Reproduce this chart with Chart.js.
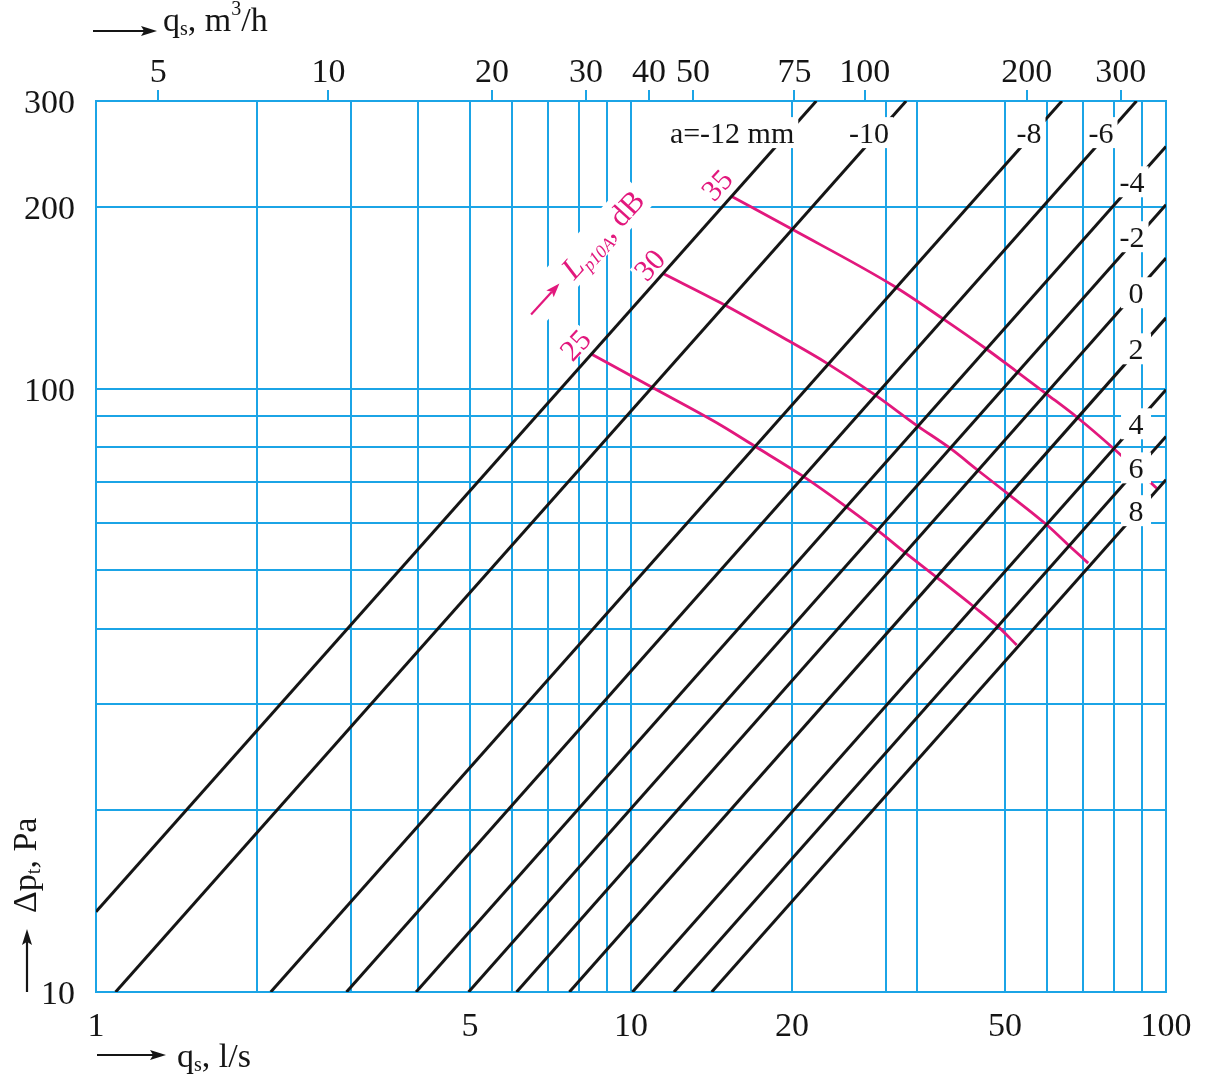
<!DOCTYPE html>
<html>
<head>
<meta charset="utf-8">
<script src="https://cdn.jsdelivr.net/npm/chart.js@4/dist/chart.umd.min.js"></script>
<style>
html,body{margin:0;padding:0;background:#fff;}
canvas{display:block;}
</style>
</head>
<body>
<canvas id="c" width="1228" height="1080"></canvas>
<script>
// ---------------- data ----------------
// bottom axis q_s [l/s]: grid lines and labelled ticks
const xGridValues = [1,2,3,4,5,6,7,8,9,10,20,30,34.2,50,60,70,80,90,100];
const xTickLabels = [1,5,10,20,50,100];
// left axis Δp_t [Pa]
const yGridValues = [10,20,30,40,50,60,70,80,90,100,200,300];
const yTickLabels = [10,100,200,300];
// top axis q_s [m3/h]: labels and where they sit on the l/s scale (as drawn)
const topTickLabels = ['5','10','20','30','40','50','75','100','200','300'];
const topTickAt = [1.307,2.719,5.499,8.239,10.80,13.06,20.21,27.34,54.91,82.33];

// damper setting lines a [mm]
const aValues   = ['-12','-10','-8','-6','-4','-2','0','2','4','6','8'];
const lineStartQ = [1, 1.088, 2.121, 2.939, 3.965, 4.97, 6.11, 7.67, 10.06, 12.03, 14.15];
const lineStartP = [13.59, 10, 10, 10, 10, 10, 10, 10, 10, 10, 10];
const lineEndQ   = [22.2, 32.68, 63.9, 88.1, 100, 100, 100, 100, 100, 100, 100];
const lineEndP   = [300, 300, 300, 300, 252.2, 201.9, 164.8, 131.1, 99.6, 83.35, 70.65];

// sound level curves L_p10A [dB]
const dbLevels = ['35','30','25'];
const curve35Q = [15.43, 19.97, 30.93, 38.08, 46.23, 52.60, 59.84, 68.08, 79.70, 96.07];
const curve35P = [208.4, 184.0, 148.2, 131.1, 116.3, 106.8, 98.0, 89.8, 79.7, 68.4];
const curve30Q = [11.53, 14.67, 19.54, 23.22, 28.58, 34.24, 39.48, 44.72, 50.73, 59.84, 65.67, 71.55];
const curve30P = [155.0, 139.0, 120.6, 110.3, 97.7, 86.9, 79.7, 73.0, 66.9, 59.5, 55.1, 51.4];
const curve25Q = [8.445, 11.01, 14.67, 17.05, 20.92, 25.22, 28.79, 32.98, 37.27, 43.63, 48.60, 52.60];
const curve25P = [114.1, 100.3, 87.2, 80.3, 71.7, 63.8, 58.4, 53.0, 48.7, 43.6, 40.3, 37.6];

// ---------------- styles ----------------
const GRID = '#1ba4e6';
const INK = '#151515';
const MAG = '#e2187d';
const SERIF = '"Liberation Serif","Times New Roman",serif';

const toPts = (qs, ps) => qs.map((q, i) => ({x: q, y: ps[i]}));

const datasets = [];
aValues.forEach((a, i) => {
  datasets.push({
    label: 'a=' + a + ' mm',
    data: [{x: lineStartQ[i], y: lineStartP[i]}, {x: lineEndQ[i], y: lineEndP[i]}],
    borderColor: INK, borderWidth: 3, showLine: true, pointRadius: 0, tension: 0
  });
});
[[curve35Q, curve35P], [curve30Q, curve30P], [curve25Q, curve25P]].forEach(([qs, ps], i) => {
  datasets.push({
    label: dbLevels[i] + ' dB',
    data: toPts(qs, ps),
    borderColor: MAG, borderWidth: 2.8, showLine: true, pointRadius: 0,
    cubicInterpolationMode: 'monotone'
  });
});

// label placement (data coordinates) – annotation config
const lineLabelSpots = [
  {t: 'a=-12 mm', q: 15.45, p: 265.9},
  {t: '-10', q: 27.86, p: 265.9},
  {t: '-8', q: 55.45, p: 265.9},
  {t: '-6', q: 75.6, p: 265.9},
  {t: '-4', q: 86.4, p: 220.4},
  {t: '-2', q: 86.4, p: 178.7},
  {t: '0', q: 87.9, p: 144.3},
  {t: '2', q: 87.9, p: 116.5},
  {t: '4', q: 87.9, p: 87.5},
  {t: '6', q: 87.9, p: 73.95},
  {t: '8', q: 87.9, p: 62.8}
];
const dbLabelSpots = [
  {t: '35', q: 14.46, p: 217.9},
  {t: '30', q: 10.82, p: 160.6},
  {t: '25', q: 7.86, p: 118.3}
];
const lpLabelSpot = {q: 8.83, p: 180.7};
const ROT = -47.6 * Math.PI / 180;

function drawRich(ctx, segs, x, y) {
  let cx = x;
  for (const s of segs) {
    ctx.font = s.f;
    ctx.fillText(s.t, cx, y + (s.dy || 0));
    cx += ctx.measureText(s.t).width;
  }
  return cx - x;
}
function richWidth(ctx, segs) {
  let w = 0;
  for (const s of segs) { ctx.font = s.f; w += ctx.measureText(s.t).width; }
  return w;
}
function arrow(ctx, x1, y1, x2, y2, color, lw, hl, hw) {
  const ang = Math.atan2(y2 - y1, x2 - x1);
  ctx.save();
  ctx.strokeStyle = color; ctx.fillStyle = color; ctx.lineWidth = lw;
  ctx.beginPath();
  ctx.moveTo(x1, y1);
  ctx.lineTo(x2 - Math.cos(ang) * hl * 0.8, y2 - Math.sin(ang) * hl * 0.8);
  ctx.stroke();
  ctx.translate(x2, y2); ctx.rotate(ang);
  ctx.beginPath();
  ctx.moveTo(0, 0); ctx.lineTo(-hl, -hw / 2); ctx.lineTo(-hl * 0.8, 0); ctx.lineTo(-hl, hw / 2);
  ctx.closePath(); ctx.fill();
  ctx.restore();
}

const annotPlugin = {
  id: 'annot',
  afterDatasetsDraw(chart) {
    const ctx = chart.ctx;
    const xs = chart.scales.x, ys = chart.scales.y;
    ctx.save();
    // damper labels with white backing
    const fs = 30;
    ctx.font = fs + 'px ' + SERIF;
    ctx.textBaseline = 'alphabetic';
    for (const L of lineLabelSpots) {
      const cx = xs.getPixelForValue(L.q), cy = ys.getPixelForValue(L.p);
      const w = ctx.measureText(L.t).width;
      const bw = Math.max(w + 8, 30), bh = 31;
      ctx.fillStyle = '#fff';
      ctx.fillRect(cx - bw / 2, cy - bh / 2, bw, bh);
      ctx.fillStyle = INK;
      ctx.textAlign = 'center';
      ctx.fillText(L.t, cx, cy + fs * 0.34);
    }
    // dB level numbers
    const fd = 30;
    for (const L of dbLabelSpots) {
      const cx = xs.getPixelForValue(L.q), cy = ys.getPixelForValue(L.p);
      ctx.save();
      ctx.translate(cx, cy); ctx.rotate(ROT);
      ctx.font = fd + 'px ' + SERIF;
      const w = ctx.measureText(L.t).width;
      ctx.fillStyle = '#fff';
      ctx.fillRect(-w / 2 - 2, -11, w + 4, 22);
      ctx.fillStyle = MAG; ctx.textAlign = 'center';
      ctx.fillText(L.t, 0, fd * 0.34);
      ctx.restore();
    }
    // L_p10A, dB label with arrow
    {
      const cx = xs.getPixelForValue(lpLabelSpot.q), cy = ys.getPixelForValue(lpLabelSpot.p);
      const segs = [
        {t: 'L', f: 'italic 31px ' + SERIF},
        {t: 'p10A', f: 'italic 18px ' + SERIF, dy: 6},
        {t: ', dB', f: '31px ' + SERIF}
      ];
      ctx.save();
      ctx.translate(cx, cy); ctx.rotate(ROT);
      ctx.textAlign = 'left';
      const w = richWidth(ctx, segs);
      ctx.fillStyle = '#fff';
      ctx.fillRect(-w / 2 - 58, -18, w + 62, 36);
      ctx.fillStyle = MAG;
      drawRich(ctx, segs, -w / 2, 11);
      arrow(ctx, -w / 2 - 54, 2, -w / 2 - 12, 2, MAG, 2.2, 14, 10);
      ctx.restore();
    }
    ctx.restore();
  },
  afterDraw(chart) {
    const ctx = chart.ctx;
    ctx.save();
    ctx.fillStyle = INK;
    ctx.textAlign = 'left';
    ctx.textBaseline = 'alphabetic';
    const big = '34px ' + SERIF, sub = '20px ' + SERIF;
    // top title
    arrow(ctx, 93, 31, 157, 31, INK, 2.2, 16, 10);
    drawRich(ctx, [
      {t: 'q', f: big}, {t: 's', f: sub, dy: 4}, {t: ', m', f: big},
      {t: '3', f: sub, dy: -16}, {t: '/h', f: big}
    ], 163, 31);
    // bottom title
    arrow(ctx, 97, 1055, 166, 1055, INK, 2.2, 16, 10);
    drawRich(ctx, [
      {t: 'q', f: big}, {t: 's', f: sub, dy: 4}, {t: ', l/s', f: big}
    ], 177, 1067);
    // left title (vertical)
    arrow(ctx, 27, 992, 27, 929, INK, 2.2, 16, 10);
    ctx.save();
    ctx.translate(36, 913); ctx.rotate(-Math.PI / 2);
    drawRich(ctx, [
      {t: '\u0394p', f: big}, {t: 't', f: sub, dy: 4}, {t: ', Pa', f: big}
    ], 0, 0);
    ctx.restore();
    ctx.restore();
  }
};

const tickFont = {family: SERIF, size: 34};

new Chart(document.getElementById('c'), {
  type: 'scatter',
  data: {datasets},
  plugins: [annotPlugin],
  options: {
    responsive: false,
    animation: false,
    devicePixelRatio: 1,
    layout: {padding: {left: 0, right: 62, top: 0, bottom: 0}},
    plugins: {legend: {display: false}, tooltip: {enabled: false}, title: {display: false}},
    scales: {
      x: {
        type: 'logarithmic', position: 'bottom', min: 1, max: 100,
        afterBuildTicks: s => { s.ticks = xGridValues.map(v => ({value: v})); },
        afterFit: s => { s.height = 88; },
        grid: {color: GRID, lineWidth: 2, drawTicks: false},
        border: {color: GRID, width: 2},
        ticks: {
          autoSkip: false, maxRotation: 0, minRotation: 0, padding: 15, color: INK, font: tickFont,
          callback: v => xTickLabels.includes(v) ? String(v) : ''
        }
      },
      xTop: {
        type: 'logarithmic', position: 'top', min: 1, max: 100,
        afterBuildTicks: s => { s.ticks = topTickAt.map(v => ({value: v})); },
        afterFit: s => { s.height = 101; },
        grid: {drawOnChartArea: false, color: GRID, lineWidth: 2, tickLength: 11},
        border: {color: GRID, width: 2},
        ticks: {
          autoSkip: false, maxRotation: 0, minRotation: 0, padding: -3, color: INK, font: tickFont,
          callback: (v, i) => topTickLabels[i]
        }
      },
      y: {
        type: 'logarithmic', position: 'left', min: 10, max: 300,
        afterBuildTicks: s => { s.ticks = yGridValues.map(v => ({value: v})); },
        afterFit: s => { s.width = 96; },
        grid: {color: GRID, lineWidth: 2, drawTicks: false},
        border: {color: GRID, width: 2},
        ticks: {
          autoSkip: false, padding: 21, labelOffset: 3, color: INK, font: tickFont,
          callback: v => yTickLabels.includes(v) ? String(v) : ''
        }
      }
    }
  }
});
</script>
</body>
</html>
